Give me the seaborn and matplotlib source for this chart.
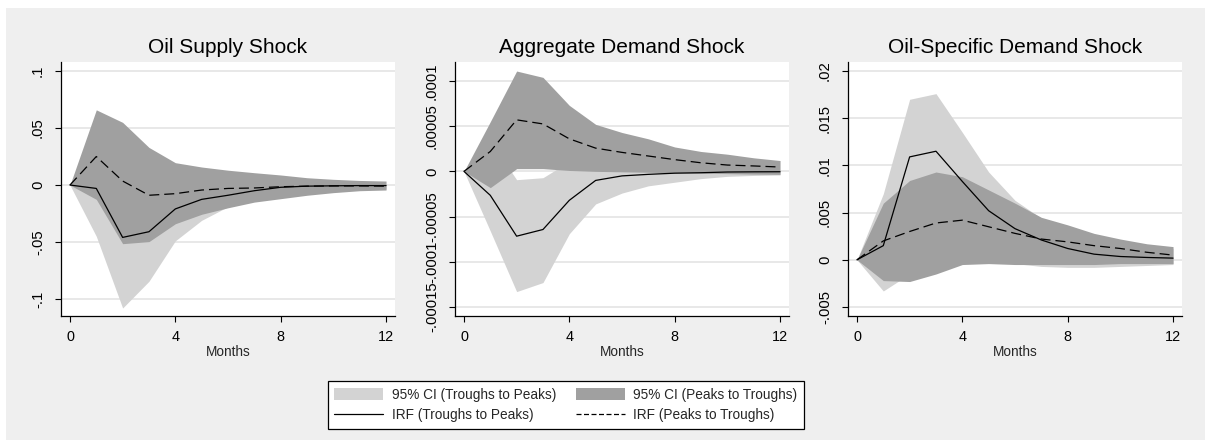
import numpy as np
import pandas as pd
import matplotlib
matplotlib.use("Agg")
import matplotlib.pyplot as plt
from matplotlib.patches import Rectangle, Patch
from matplotlib.lines import Line2D
import seaborn as sns

months = list(range(13))

titles = ["Oil Supply Shock", "Aggregate Demand Shock", "Oil-Specific Demand Shock"]

# ---- Oil Supply Shock ----
s_irf_tp = [0, -0.003, -0.046, -0.041, -0.021, -0.0126, -0.009, -0.005, -0.002, -0.001, -0.0007, -0.0005, -0.0005]
s_irf_pt = [0, 0.025, 0.0035, -0.009, -0.0076, -0.0044, -0.003, -0.0026, -0.0015, -0.001, -0.0008, -0.0008, -0.001]
s_ci_pt_hi = [0, 0.066, 0.055, 0.033, 0.0196, 0.0158, 0.013, 0.0108, 0.0088, 0.0064, 0.005, 0.004, 0.0035]
s_ci_pt_lo = [0, -0.0126, -0.0515, -0.0497, -0.034, -0.0257, -0.020, -0.015, -0.012, -0.009, -0.0067, -0.005, -0.0044]
s_ci_tp_hi = [0, 0.01, -0.005, -0.01, -0.005, -0.003, -0.002, -0.001, 0.0, 0.0, 0.0, 0.0, 0.0]
s_ci_tp_lo = [0, -0.045, -0.108, -0.0845, -0.049, -0.031, -0.019, -0.013, -0.009, -0.006, -0.005, -0.004, -0.0035]
s_yticks = [-0.1, -0.05, 0, 0.05, 0.1]
s_ylabels = ["-.1", "-.05", "0", ".05", ".1"]

# ---- Aggregate Demand Shock ----
a_irf_tp = [0, -2.65e-5, -7.17e-5, -6.43e-5, -3.2e-5, -1.0e-5, -0.5e-5, -0.33e-5, -0.2e-5, -0.15e-5, -0.07e-5, -0.05e-5, -0.04e-5]
a_irf_pt = [0, 2.2e-5, 5.7e-5, 5.25e-5, 3.6e-5, 2.57e-5, 2.1e-5, 1.7e-5, 1.3e-5, 0.95e-5, 0.7e-5, 0.6e-5, 0.48e-5]
a_ci_pt_hi = [0, 5.5e-5, 11.1e-5, 10.4e-5, 7.3e-5, 5.2e-5, 4.3e-5, 3.6e-5, 2.7e-5, 2.2e-5, 1.9e-5, 1.5e-5, 1.2e-5]
a_ci_pt_lo = [0, -1.8e-5, 0.3e-5, 0.3e-5, 0.1e-5, 0.0, -0.05e-5, -0.1e-5, -0.15e-5, -0.2e-5, -0.25e-5, -0.3e-5, -0.33e-5]
a_ci_tp_hi = [0, 3.4e-5, -0.92e-5, -0.7e-5, 1.1e-5, 0.5e-5, 0.3e-5, 0.2e-5, 0.1e-5, 0.05e-5, 0.0, 0.0, 0.0]
a_ci_tp_lo = [0, -6.6e-5, -13.3e-5, -12.3e-5, -6.9e-5, -3.6e-5, -2.4e-5, -1.6e-5, -1.2e-5, -0.8e-5, -0.55e-5, -0.45e-5, -0.4e-5]
a_yticks = [-0.00015, -0.0001, -0.00005, 0, 0.00005, 0.0001]
a_ylabels = ["-.00015", "-.0001", "-.00005", "0", ".00005", ".0001"]

# ---- Oil-Specific Demand Shock ----
o_irf_tp = [0, 0.0015, 0.0109, 0.0115, 0.0083, 0.0052, 0.0033, 0.0021, 0.0012, 0.0006, 0.00035, 0.00025, 0.00018]
o_irf_pt = [0, 0.002, 0.003, 0.0039, 0.0042, 0.0035, 0.0028, 0.0022, 0.0019, 0.0015, 0.0012, 0.0008, 0.0005]
o_ci_pt_hi = [0, 0.006, 0.0084, 0.0093, 0.0088, 0.0074, 0.006, 0.0045, 0.0037, 0.0028, 0.0022, 0.0017, 0.0014]
o_ci_pt_lo = [0, -0.0022, -0.0023, -0.0015, -0.0005, -0.0004, -0.0005, -0.0005, -0.0005, -0.0005, -0.0004, -0.0004, -0.0004]
o_ci_tp_hi = [0, 0.007, 0.017, 0.0176, 0.0135, 0.0093, 0.0063, 0.0044, 0.0034, 0.0026, 0.002, 0.0015, 0.0012]
o_ci_tp_lo = [0, -0.0033, -0.0015, -0.001, -0.0004, -0.0003, -0.0004, -0.0007, -0.0008, -0.0008, -0.0007, -0.0006, -0.0005]
o_yticks = [-0.005, 0, 0.005, 0.01, 0.015, 0.02]
o_ylabels = ["-.005", "0", ".005", ".01", ".015", ".02"]

xticks = [0, 4, 8, 12]
xlabels = ["0", "4", "8", "12"]

legend_labels = ["95% CI (Troughs to Peaks)", "95% CI (Peaks to Troughs)",
                 "IRF (Troughs to Peaks)", "IRF (Peaks to Troughs)"]

panels = [
    (s_irf_tp, s_irf_pt, s_ci_tp_lo, s_ci_tp_hi, s_ci_pt_lo, s_ci_pt_hi, s_yticks, s_ylabels, (-0.115, 0.108)),
    (a_irf_tp, a_irf_pt, a_ci_tp_lo, a_ci_tp_hi, a_ci_pt_lo, a_ci_pt_hi, a_yticks, a_ylabels, (-0.00016, 0.000121)),
    (o_irf_tp, o_irf_pt, o_ci_tp_lo, o_ci_tp_hi, o_ci_pt_lo, o_ci_pt_hi, o_yticks, o_ylabels, (-0.00595, 0.02095)),
]

sns.set_theme(style="white")
plt.rcParams['font.family'] = ['Liberation Sans', 'DejaVu Sans']

LIGHT = "#d3d3d3"
DARK = "#a0a0a0"
BG = "#efefef"
GRID = "#e6e6e6"

W, H = 1206, 440
fig = plt.figure(figsize=(W / 100, H / 100), dpi=100, facecolor="white")
fig.patches.append(Rectangle((6 / W, 0), (W - 7) / W, (H - 8) / H, transform=fig.transFigure,
                             facecolor=BG, edgecolor="none", zorder=-10))

lefts = [61, 455, 848]
ax_w = 334
ax_top, ax_bot = 62, 316

for i, (irf_tp, irf_pt, tp_lo, tp_hi, pt_lo, pt_hi, yt, yl, ylim) in enumerate(panels):
    ax = fig.add_axes([lefts[i] / W, (H - ax_bot) / H, ax_w / W, (ax_bot - ax_top) / H])
    ax.set_facecolor("white")
    df = pd.DataFrame({"Months": months, "tp": irf_tp, "pt": irf_pt,
                       "tp_lo": tp_lo, "tp_hi": tp_hi, "pt_lo": pt_lo, "pt_hi": pt_hi})
    ax.fill_between(df["Months"], df["tp_lo"], df["tp_hi"], color=LIGHT, linewidth=0, zorder=2)
    ax.fill_between(df["Months"], df["pt_lo"], df["pt_hi"], color=DARK, linewidth=0, zorder=3)
    sns.lineplot(data=df, x="Months", y="tp", ax=ax, color="black", linewidth=0.9, zorder=4)
    sns.lineplot(data=df, x="Months", y="pt", ax=ax, color="black", linewidth=0.9,
                 linestyle=(0, (8, 4)), zorder=4)
    ax.set_xlim(-0.34, 12.34)
    ax.set_ylim(*ylim)
    ax.set_xticks(xticks)
    ax.set_xticklabels(xlabels, fontsize=10.4)
    ax.set_yticks(yt)
    ax.set_yticklabels(yl, fontsize=10.7, rotation=90, va="center")
    ax.yaxis.grid(True, color=GRID, linewidth=1.3)
    ax.xaxis.grid(False)
    ax.set_axisbelow(True)
    for side in ["top", "right"]:
        ax.spines[side].set_visible(False)
    for side in ["left", "bottom"]:
        ax.spines[side].set_color("black")
        ax.spines[side].set_linewidth(0.9)
    ax.tick_params(axis="both", which="major", direction="out", length=4.5, width=0.8,
                   color="black", left=True, bottom=True, labelcolor="black")
    ax.tick_params(axis="y", pad=7)
    ax.tick_params(axis="x", pad=5.5)
    ax.set_xlabel("Months", fontsize=9.8, labelpad=1)
    ax.set_ylabel("")
    ax.set_title(titles[i], fontsize=15, pad=6.5, color="black")

handles = [Patch(facecolor=LIGHT, edgecolor="none"),
           Patch(facecolor=DARK, edgecolor="none"),
           Line2D([0], [0], color="black", linewidth=0.9),
           Line2D([0], [0], color="black", linewidth=0.9, linestyle=(0, (4, 2)))]
order = [0, 2, 1, 3]
leg = fig.legend([handles[k] for k in order], [legend_labels[k] for k in order],
                 loc="center", bbox_to_anchor=(566 / W, 1 - 405 / H), ncol=2,
                 fontsize=9.8, frameon=True, fancybox=False, framealpha=1,
                 edgecolor="black", facecolor="white", handlelength=3.6,
                 handleheight=1.0, handletextpad=0.6, columnspacing=1.5,
                 labelspacing=0.5, borderpad=0.5, borderaxespad=0)
leg.get_frame().set_linewidth(0.9)

fig.savefig("out.png", dpi=100, facecolor=fig.get_facecolor())
